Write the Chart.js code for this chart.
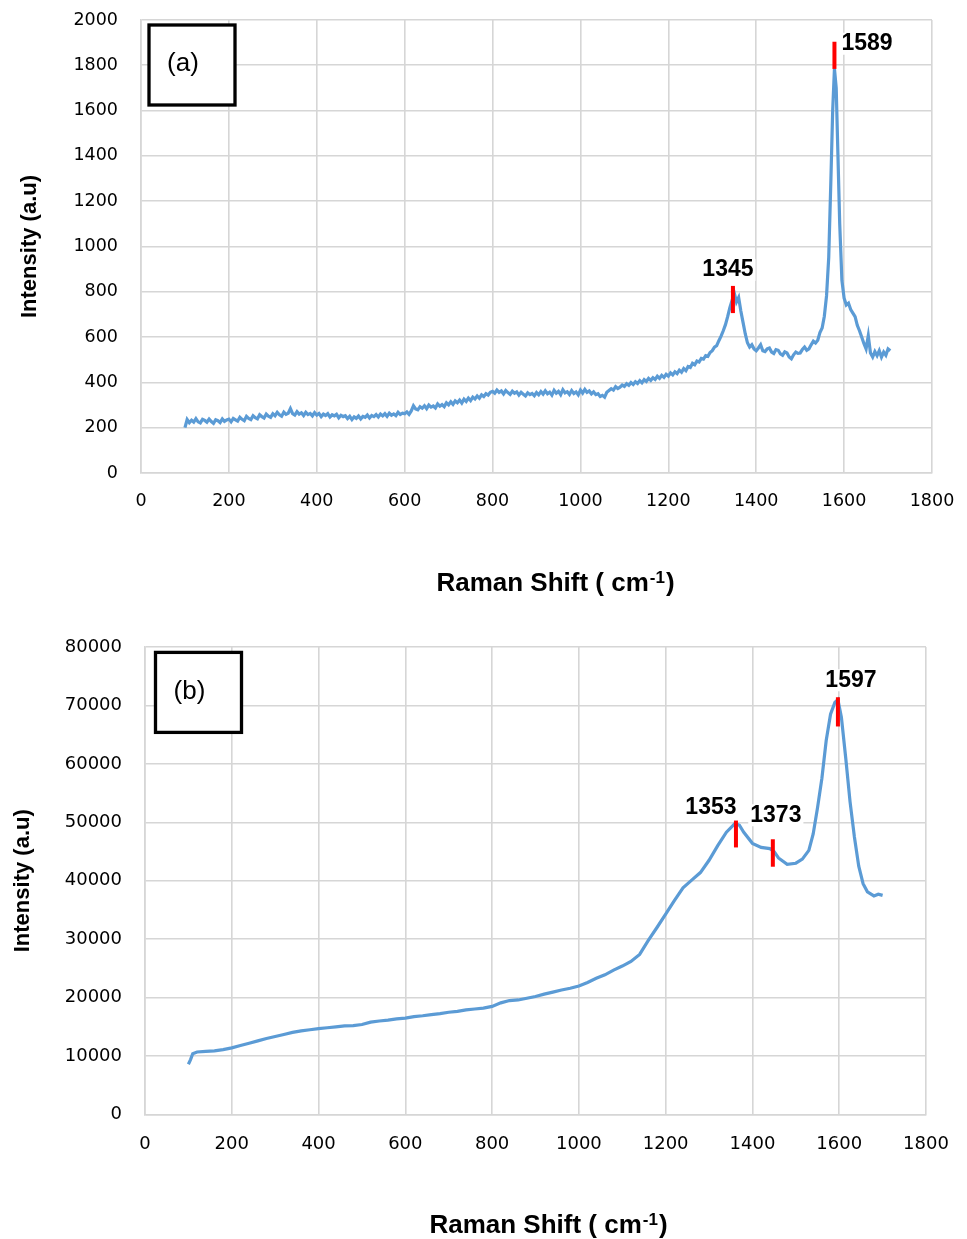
<!DOCTYPE html>
<html>
<head>
<meta charset="utf-8">
<script src="https://cdn.jsdelivr.net/npm/chart.js@4.4.1/dist/chart.umd.min.js"></script>
<style>
  body { margin: 0; background: #fff; }
  #chartA { position: absolute; left: 0; top: 0; }
  #chartB { position: absolute; left: 0; top: 610px; }
</style>
</head>
<body>
<canvas id="chartA" width="967" height="610"></canvas>
<canvas id="chartB" width="967" height="629"></canvas>
<script>
// (a) spectrum
const ramanA = [
  100,105,110,115,120,125,130,135,140,145,150,155,160,165,170,175,180,185,190,195,
  200,205,210,215,220,225,230,235,240,245,250,255,260,265,270,275,280,285,290,295,
  300,305,310,315,320,325,330,335,340,345,350,355,360,365,370,375,380,385,390,395,
  400,405,410,415,420,425,430,435,440,445,450,455,460,465,470,475,480,485,490,495,
  500,505,510,515,520,525,530,535,540,545,550,555,560,565,570,575,580,585,590,595,
  600,605,610,615,620,625,630,635,640,645,650,655,660,665,670,675,680,685,690,695,
  700,705,710,715,720,725,730,735,740,745,750,755,760,765,770,775,780,785,790,795,
  800,805,810,815,820,825,830,835,840,845,850,855,860,865,870,875,880,885,890,895,
  900,905,910,915,920,925,930,935,940,945,950,955,960,965,970,975,980,985,990,995,
  1000,1005,1010,1015,1020,1025,1030,1035,1040,1045,1050,1055,1060,1065,1070,1075,1080,1085,1090,1095,
  1100,1105,1110,1115,1120,1125,1130,1135,1140,1145,1150,1155,1160,1165,1170,1175,1180,1185,1190,1195,
  1200,1205,1210,1215,1220,1225,1230,1235,1240,1245,1250,1255,1260,1265,1270,1275,1280,1285,1290,1295,
  1300,1305,1310,1315,1320,1325,1330,1335,1340,1345,1350,1355,1360,1365,1370,1375,1380,1385,1390,1395,
  1400,1405,1410,1415,1420,1425,1430,1435,1440,1445,1450,1455,1460,1465,1470,1475,1480,1485,1490,1495,
  1500,1505,1510,1515,1520,1525,1530,1535,1540,1545,1550,1555,1560,1565,1570,1574,1578,1582,1586,1590,
  1595,1600,1605,1610,1615,1620,1625,1630,1635,1640,1645,1650,1655,1660,1665,1670,1675,1680,1685,1690,1695,1700,1705];
const intensityA = [
  200,236,222,233,225,240,226,221,237,232,224,238,227,219,235,231,223,239,228,234,
  238,226,241,235,229,246,237,231,250,241,236,253,244,239,257,249,243,260,251,246,
  262,253,268,257,251,269,259,264,284,262,256,271,260,266,254,268,258,263,252,267,
  256,263,249,260,254,262,247,257,252,259,244,255,249,253,240,250,236,248,241,252,
  239,250,246,256,243,254,249,258,247,260,252,262,250,264,255,261,253,268,258,264,
  262,270,259,274,297,283,279,293,286,297,284,300,291,296,287,305,295,302,293,310,
  301,314,303,318,310,322,309,326,316,331,320,335,327,340,330,345,338,350,344,356,
  360,352,366,356,362,349,364,355,347,361,352,358,344,356,348,340,354,346,351,341,
  355,345,359,348,363,350,357,344,365,352,360,346,368,354,359,347,364,351,358,345,
  366,353,369,356,362,349,358,346,350,338,343,335,356,364,372,366,381,373,379,388,
  382,394,387,399,391,403,395,408,398,412,404,418,409,421,413,427,418,431,422,436,
  428,442,433,447,439,454,445,461,452,470,466,484,478,494,490,506,503,518,515,532,
  540,556,562,584,604,628,655,690,730,762,795,755,775,715,665,615,575,556,566,548,
  540,552,566,540,536,548,552,534,528,545,542,526,520,535,530,512,504,522,534,528,
  530,545,556,542,548,566,582,574,586,620,640,692,782,952,1300,1600,1785,1700,1400,1100,
  850,772,742,750,722,706,690,652,628,600,572,548,606,530,512,536,518,540,512,534,520,548,540];

// (b) spectrum
const ramanB = [100,105,110,120,140,160,180,200,220,240,260,280,300,320,340,360,380,400,420,440,460,480,500,
  520,540,560,580,600,620,640,660,680,700,720,740,760,780,800,820,840,860,880,900,920,940,960,980,1000,1020,1040,1060,
  1080,1100,1120,1140,1150,1160,1180,1200,1220,1240,1260,1280,1300,1320,1340,1360,1370,1380,1400,1420,1440,1450,1460,
  1480,1500,1515,1530,1540,1550,1560,1570,1580,1590,1597,1605,1615,1625,1635,1645,1655,1665,1680,1690,1700];
const intensityB = [8600,9400,10400,10700,10800,10900,11100,11400,11800,12200,12600,13000,13350,13700,14050,14300,14500,14700,14850,15000,15150,15200,15400,
  15800,16000,16150,16350,16500,16750,16900,17100,17250,17500,17650,17900,18050,18200,18500,19100,19500,19600,19900,20200,20600,20950,21300,21600,22000,22600,23300,23900,
  24700,25400,26200,27400,28600,29800,32000,34300,36600,38800,40100,41400,43500,46000,48300,49800,49500,48300,46400,45700,45500,45000,43900,
  42800,43000,43700,45200,48000,52500,57500,64000,68500,70500,71000,68000,61000,53500,47500,42500,39500,38100,37400,37700,37500];

// peak marks: position, top and bottom of the red tick, label
const peakShiftA = [1347, 1578];
const peakTopA = [826, 1904];
const peakBottomA = [706, 1784];
const peakLabelA = ['1345', '1589'];

const peakShiftB = [1362, 1447, 1597];
const peakTopB = [50300, 47100, 71400];
const peakBottomB = [45700, 42400, 66400];
const peakLabelB = ['1353', '1373', '1597'];

const xMax = 1800, xStep = 200;
const yMaxA = 2000, yStepA = 200;
const yMaxB = 80000, yStepB = 10000;

Chart.defaults.font.family = '"DejaVu Sans", sans-serif';
Chart.defaults.color = '#000';

const GRID = '#d6d6d6';
const BLUE = '#5b9bd5';

const peakMarks = {
  id: 'peakMarks',
  afterDatasetsDraw(chart, args, opts) {
    const {ctx, scales: {x, y}} = chart;
    ctx.save();
    ctx.font = 'bold 23px "Liberation Sans", Arial, sans-serif';
    ctx.textBaseline = 'middle';
    opts.shift.forEach((s, i) => {
      const px = x.getPixelForValue(s);
      const top = y.getPixelForValue(opts.top[i]);
      const bot = y.getPixelForValue(opts.bottom[i]);
      // label with white box
      const w = ctx.measureText(opts.label[i]).width;
      let lx = px + opts.dx[i];
      if (opts.align[i] === 'center') lx -= w / 2;
      const ly = top + opts.dy[i];
      ctx.fillStyle = '#fff';
      ctx.fillRect(lx - 2, ly - 11, w + 4, 22);
      ctx.fillStyle = '#000';
      ctx.textAlign = 'left';
      ctx.fillText(opts.label[i], lx, ly);
      ctx.strokeStyle = '#ff0000';
      ctx.lineWidth = 4;
      ctx.beginPath();
      ctx.moveTo(px, top);
      ctx.lineTo(px, bot);
      ctx.stroke();
    });
    ctx.restore();
  }
};

const panelTag = {
  id: 'panelTag',
  afterDraw(chart, args, opts) {
    const {ctx, chartArea} = chart;
    const bx = chartArea.left + opts.dx, by = chartArea.top + opts.dy;
    ctx.save();
    ctx.fillStyle = '#fff';
    ctx.fillRect(bx, by, 86, 80);
    ctx.strokeStyle = '#000';
    ctx.lineWidth = 3.3;
    ctx.strokeRect(bx, by, 86, 80);
    ctx.fillStyle = '#000';
    ctx.font = '26px "Liberation Sans", Arial, sans-serif';
    ctx.textAlign = 'center';
    ctx.textBaseline = 'middle';
    ctx.fillText(opts.text, bx + 34, by + 39);
    ctx.restore();
  }
};

// x axis caption with superscript
const xCaption = {
  id: 'xCaption',
  afterDraw(chart, args, opts) {
    const {ctx, chartArea} = chart;
    const cx = (chartArea.left + chartArea.right) / 2 + opts.dx;
    const base = chartArea.bottom + opts.dy + 9;
    const main = 'bold 26px "Liberation Sans", Arial, sans-serif';
    const sup = 'bold 17px "Liberation Sans", Arial, sans-serif';
    ctx.save();
    ctx.fillStyle = '#000';
    ctx.textBaseline = 'alphabetic';
    ctx.textAlign = 'left';
    ctx.font = main;
    const w1 = ctx.measureText('Raman Shift ( cm').width;
    const w3 = ctx.measureText(')').width;
    ctx.font = sup;
    const w2 = ctx.measureText('-1').width + 2;
    let x0 = cx - (w1 + w2 + w3) / 2;
    ctx.font = main;
    ctx.fillText('Raman Shift ( cm', x0, base);
    ctx.font = sup;
    ctx.fillText('-1', x0 + w1 + 1, base - 8);
    ctx.font = main;
    ctx.fillText(')', x0 + w1 + w2, base);
    ctx.restore();
  }
};

function makeChart(id, xs, ys, yMax, yStep, layout, tickSize, titlePad, peaks, tag, cap) {
  const pts = xs.map((v, i) => ({x: v, y: ys[i]}));
  return new Chart(document.getElementById(id), {
    type: 'line',
    data: {
      datasets: [{
        data: pts,
        borderColor: BLUE,
        borderWidth: layout.lw,
        pointRadius: 0,
        tension: 0,
        fill: false,
      }]
    },
    plugins: [peakMarks, panelTag, xCaption],
    options: {
      responsive: false,
      animation: false,
      events: [],
      layout: {padding: {top: layout.top, right: layout.right, left: 0, bottom: 0}},
      plugins: {
        legend: {display: false},
        tooltip: {enabled: false},
        peakMarks: peaks,
        panelTag: tag,
        xCaption: cap,
      },
      scales: {
        x: {
          type: 'linear',
          min: 0,
          max: xMax,
          afterFit(scale) {
            scale.height = layout.xh;
            scale.paddingLeft = 0;
            scale.paddingRight = 0;
          },
          grid: {color: GRID, lineWidth: 1.6, drawTicks: false},
          border: {color: GRID, width: 1.6},
          ticks: {stepSize: xStep, padding: layout.xpad, font: {size: tickSize}, color: '#000',
                  callback: v => String(v)},
        },
        y: {
          min: 0,
          max: yMax,
          afterFit(scale) {
            scale.width = layout.yw;
            scale.paddingTop = 0;
            scale.paddingBottom = 0;
          },
          grid: {color: GRID, lineWidth: 1.6, drawTicks: false},
          border: {color: GRID, width: 1.6},
          ticks: {stepSize: yStep, padding: 23, font: {size: tickSize}, color: '#000',
                  callback: v => String(v)},
          title: {
            display: true,
            text: 'Intensity (a.u)',
            color: '#000',
            font: {family: '"Liberation Sans", Arial, sans-serif', size: 22, weight: 'bold', lineHeight: 1.2},
            padding: {top: titlePad, bottom: 0},
          },
        },
      },
    },
  });
}

makeChart('chartA', ramanA, intensityA, yMaxA, yStepA,
  {top: 20, right: 35, xh: 137, yw: 141, xpad: 17.5, lw: 3.2}, 17.5, 16.8,
  {shift: peakShiftA, top: peakTopA, bottom: peakBottomA, label: peakLabelA,
   dx: [-5, 7], dy: [-16, 2], align: ['center', 'left']},
  {text: '(a)', dx: 8, dy: 5},
  {dx: 19, dy: 109});

makeChart('chartB', ramanB, intensityB, yMaxB, yStepB,
  {top: 37, right: 41, xh: 124.5, yw: 145, xpad: 19.5, lw: 3.2}, 18, 9.3,
  {shift: peakShiftB, top: peakTopB, bottom: peakBottomB, label: peakLabelB,
   dx: [-25, 3, 13], dy: [-13, -24, -17], align: ['center', 'center', 'center']},
  {text: '(b)', dx: 10.5, dy: 5.4},
  {dx: 13, dy: 109.5});
</script>
</body>
</html>
